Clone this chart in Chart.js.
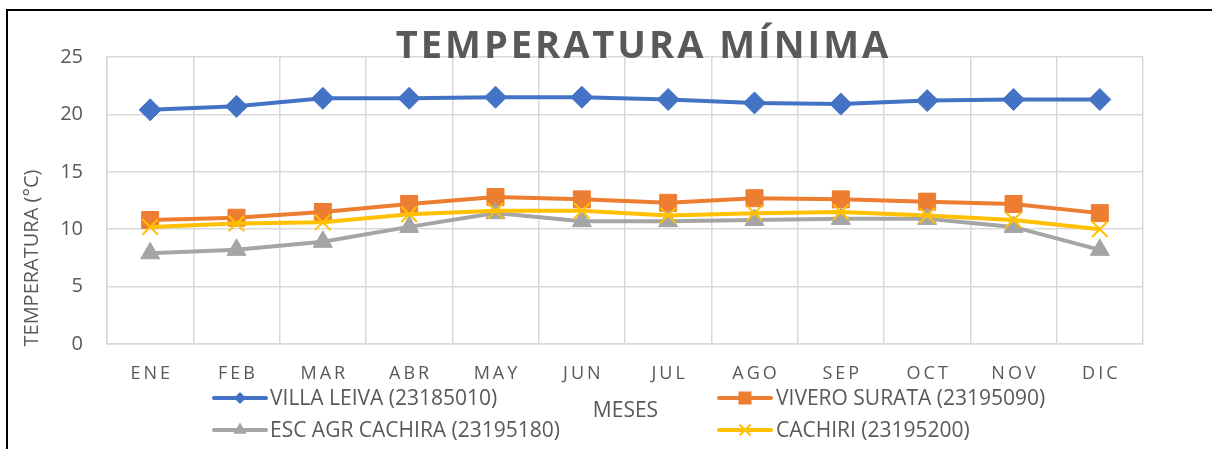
<!DOCTYPE html>
<html>
<head>
<meta charset="utf-8">
<script src="https://cdn.jsdelivr.net/npm/chart.js@4.4.0/dist/chart.umd.min.js"></script>
<style>
  html, body { margin: 0; padding: 0; background: #fff; overflow: hidden; }
  #wrap { position: relative; width: 1212px; height: 449px; overflow: hidden; background: #fff; }
  #frame { position: absolute; left: 6px; top: 9px; width: 1400px; height: 700px;
           border-left: 2px solid #000; border-top: 2px solid #000; box-sizing: border-box; }
  canvas { position: absolute; left: 0; top: 0; }
</style>
</head>
<body>
<div id="wrap">
  <div id="frame"></div>
  <canvas id="c" width="1212" height="449"></canvas>
</div>
<script>
const months = ['ENE','FEB','MAR','ABR','MAY','JUN','JUL','AGO','SEP','OCT','NOV','DIC'];
const villaLeiva = [20.4, 20.7, 21.4, 21.4, 21.5, 21.5, 21.3, 21.0, 20.9, 21.2, 21.3, 21.3];
const viveroSurata = [10.8, 11.0, 11.5, 12.2, 12.8, 12.6, 12.3, 12.7, 12.6, 12.4, 12.2, 11.4];
const escAgrCachira = [7.9, 8.2, 8.9, 10.2, 11.4, 10.7, 10.7, 10.8, 10.9, 10.9, 10.2, 8.2];
const cachiri = [10.2, 10.5, 10.6, 11.3, 11.6, 11.6, 11.2, 11.4, 11.5, 11.2, 10.8, 10.0];
const yTicks = [0, 5, 10, 15, 20, 25];

const chartTitle = 'TEMPERATURA MÍNIMA';
const yTitle = 'TEMPERATURA (°C)';
const xTitle = 'MESES';
const seriesNames = ['VILLA LEIVA (23185010)', 'VIVERO SURATA (23195090)', 'ESC AGR CACHIRA (23195180)', 'CACHIRI (23195200)'];

const BLUE = '#4472C4', ORANGE = '#ED7D31', GRAY = '#A5A5A5', YELLOW = '#FFC000';
const TXT = '#595959';
const FONT = '"Open Sans", "Noto Sans", sans-serif';

function drawMarker(ctx, style, x, y, size, color) {
  ctx.save();
  ctx.fillStyle = color; ctx.strokeStyle = color;
  ctx.beginPath();
  if (style === 'rectRot') {
    ctx.moveTo(x, y - size); ctx.lineTo(x + size, y); ctx.lineTo(x, y + size); ctx.lineTo(x - size, y); ctx.closePath(); ctx.fill();
  } else if (style === 'rect') {
    ctx.rect(x - size, y - size, 2 * size, 2 * size); ctx.fill();
  } else if (style === 'triangle') {
    ctx.moveTo(x, y - size); ctx.lineTo(x + size * 0.866, y + size * 0.5); ctx.lineTo(x - size * 0.866, y + size * 0.5); ctx.closePath(); ctx.fill();
  } else if (style === 'crossRot') {
    ctx.lineWidth = 2;
    ctx.moveTo(x - size, y - size); ctx.lineTo(x + size, y + size);
    ctx.moveTo(x + size, y - size); ctx.lineTo(x - size, y + size); ctx.stroke();
  }
  ctx.restore();
}

const textPlugin = {
  id: 'texts',
  afterDraw(chart) {
    const ctx = chart.ctx;
    const xs = chart.scales.x;
    ctx.save();
    ctx.fillStyle = TXT;
    // x category labels (letter spaced)
    ctx.font = '18px ' + FONT;
    ctx.letterSpacing = '3px';
    ctx.textAlign = 'center';
    ctx.textBaseline = 'alphabetic';
    months.forEach((m, i) => {
      ctx.fillText(m, xs.getPixelForValue(i) + 1.5, 379);
    });
    // title
    ctx.font = 'bold 38px ' + FONT;
    ctx.letterSpacing = '3px';
    ctx.textAlign = 'left';
    const tw = ctx.measureText(chartTitle).width - 3;
    ctx.fillText(chartTitle, 642 - tw / 2, 58);
    ctx.letterSpacing = '0px';
    // x axis title
    ctx.font = '21px ' + FONT;
    ctx.textAlign = 'center';
    ctx.fillText(xTitle, 625.5, 417);
    // y axis title
    ctx.save();
    ctx.translate(38, 258);
    ctx.rotate(-Math.PI / 2);
    ctx.font = '20px ' + FONT;
    ctx.textAlign = 'center';
    ctx.fillText(yTitle, 0, 0);
    ctx.restore();
    // legend
    const items = [
      { name: seriesNames[0], color: BLUE, style: 'rectRot', size: 6, x: 212, y: 398 },
      { name: seriesNames[1], color: ORANGE, style: 'rect', size: 6.5, x: 717, y: 398 },
      { name: seriesNames[2], color: GRAY, style: 'triangle', size: 7.5, x: 212, y: 430 },
      { name: seriesNames[3], color: YELLOW, style: 'crossRot', size: 5.5, x: 717, y: 430 }
    ];
    ctx.font = '21px ' + FONT;
    ctx.textAlign = 'left';
    items.forEach(it => {
      ctx.save();
      ctx.strokeStyle = it.color; ctx.lineWidth = 4; ctx.lineCap = 'round';
      ctx.beginPath(); ctx.moveTo(it.x + 2, it.y); ctx.lineTo(it.x + 54, it.y); ctx.stroke();
      ctx.restore();
      drawMarker(ctx, it.style, it.x + 28, it.y, it.size, it.color);
      ctx.fillStyle = TXT;
      ctx.fillText(it.name, it.x + (it.x === 212 ? 58 : 59), it.y + 7);
    });
    ctx.restore();
  }
};

new Chart(document.getElementById('c'), {
  type: 'line',
  data: {
    labels: months,
    datasets: [
      { label: seriesNames[0], data: villaLeiva, borderColor: BLUE, backgroundColor: BLUE, borderWidth: 4,
        pointStyle: 'rectRot', pointRadius: 11, pointBorderWidth: 1, pointBackgroundColor: BLUE, pointBorderColor: BLUE, order: 4 },
      { label: seriesNames[1], data: viveroSurata, borderColor: ORANGE, backgroundColor: ORANGE, borderWidth: 4,
        pointStyle: 'rect', pointRadius: 12, pointBorderWidth: 1, pointBackgroundColor: ORANGE, pointBorderColor: ORANGE, order: 3 },
      { label: seriesNames[2], data: escAgrCachira, borderColor: GRAY, backgroundColor: GRAY, borderWidth: 4,
        pointStyle: 'triangle', pointRadius: 11, pointBorderWidth: 1, pointBackgroundColor: GRAY, pointBorderColor: GRAY, order: 2 },
      { label: seriesNames[3], data: cachiri, borderColor: YELLOW, backgroundColor: YELLOW, borderWidth: 4,
        pointStyle: 'crossRot', pointRadius: 11, pointBorderWidth: 2, pointBackgroundColor: YELLOW, pointBorderColor: YELLOW, order: 1 }
    ]
  },
  options: {
    responsive: false,
    animation: false,
    devicePixelRatio: 1,
    layout: { padding: { left: 0, right: 69, top: 57, bottom: 0 } },
    elements: { line: { tension: 0 } },
    plugins: { legend: { display: false }, title: { display: false }, tooltip: { enabled: false } },
    scales: {
      x: {
        type: 'category',
        offset: true,
        grid: { offset: true, color: '#d9d9d9', lineWidth: 1.5, drawTicks: false },
        border: { display: true, color: '#d9d9d9', width: 1.5 },
        ticks: { display: false },
        afterFit(s) { s.height = 105; }
      },
      y: {
        min: 0, max: 25,
        afterBuildTicks(s) { s.ticks = yTicks.map(v => ({ value: v })); },
        grid: { color: '#d9d9d9', lineWidth: 1.5, drawTicks: false },
        border: { display: true, color: '#d9d9d9', width: 1.5 },
        ticks: { color: TXT, font: { family: FONT, size: 20 }, padding: 24 },
        afterFit(s) { s.width = 107; }
      }
    }
  },
  plugins: [textPlugin]
});
</script>
</body>
</html>
